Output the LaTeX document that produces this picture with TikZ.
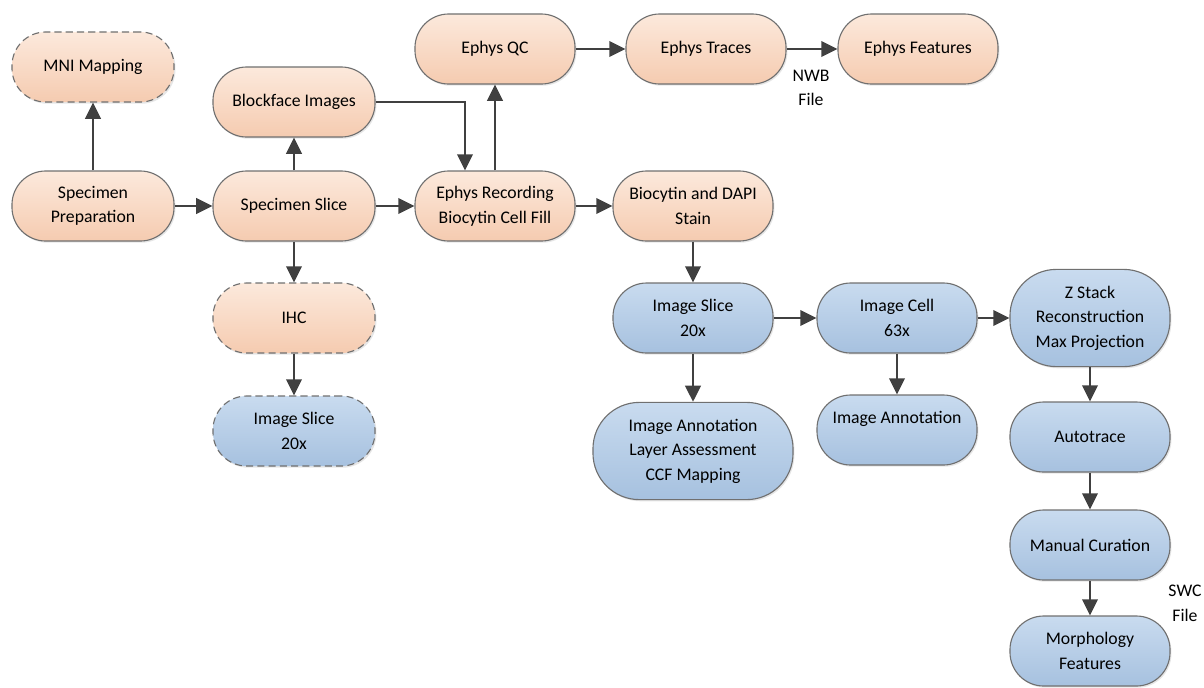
\documentclass[tikz,border=0pt]{standalone}
\usepackage{fontspec}
\setmainfont{Carlito}
\usetikzlibrary{arrows.meta,shadows}
\definecolor{peachtop}{HTML}{FCE9DC}
\definecolor{peachbot}{HTML}{F5CBB0}
\definecolor{bluetop}{HTML}{C9DBEF}
\definecolor{bluebot}{HTML}{A6C1DF}
\definecolor{edgegray}{HTML}{707070}
\definecolor{arrowgray}{HTML}{404040}
\tikzset{box/.style={draw=edgegray,line width=0.8pt,rounded corners=24pt,
    minimum width=4cm,minimum height=1.75cm,align=center,
    font=\fontsize{12.6}{17.5}\selectfont,
    drop shadow={opacity=0.2,shadow xshift=1pt,shadow yshift=-1.2pt}},
    peachbox/.style={box,top color=peachtop,bottom color=peachbot},
    bluebox/.style={box,top color=bluetop,bottom color=bluebot},
    optional/.style={dash pattern=on 5pt off 3pt},
    tallbox/.style={minimum height=2.43cm,rounded corners=33pt},
    flow/.style={draw=arrowgray,line width=1.8pt,-{Triangle[length=11.5pt,width=11pt]}},
    filenote/.style={font=\fontsize{12.6}{17.5}\selectfont,align=center}}

\begin{document}
\begin{tikzpicture}[x=0.025cm,y=-0.025cm]
\useasboundingbox (0,0) rectangle (1204,687);

\node[peachbox,optional,minimum width=4.05cm] (mni) at (93,67) {MNI Mapping};
\node[peachbox,minimum width=4.05cm] (prep) at (93,206) {Specimen\\Preparation};
\node[peachbox,minimum width=4.05cm] (blockface) at (294,102) {Blockface Images};
\node[peachbox,minimum width=4.05cm] (slice) at (294,206) {Specimen Slice};
\node[peachbox,optional,minimum width=4.05cm] (ihc) at (294,318) {IHC};
\node[bluebox,optional,minimum width=4.05cm] (ihcimg) at (294,431) {Image Slice\\20x};

\node[peachbox] (qc) at (495,49) {Ephys QC};
\node[peachbox] (traces) at (706,49) {Ephys Traces};
\node[peachbox] (features) at (918,49) {Ephys Features};
\node[peachbox] (rec) at (495,206) {Ephys Recording\\Biocytin Cell Fill};
\node[peachbox] (stain) at (693,206) {Biocytin and DAPI\\Stain};

\node[bluebox] (imgslice) at (693,318) {Image Slice\\20x};
\node[bluebox,tallbox,minimum width=5cm] (annot) at (693,451) {Image Annotation\\Layer Assessment\\CCF Mapping};
\node[bluebox] (imgcell) at (897,318) {Image Cell\\63x};
\node[bluebox] (cellannot) at (897,430) {Image Annotation\\~};
\node[bluebox,tallbox] (zstack) at (1090,318) {Z Stack\\Reconstruction\\Max Projection};
\node[bluebox] (autotrace) at (1090,437) {Autotrace};
\node[bluebox] (curation) at (1090,545) {Manual Curation};
\node[bluebox] (morph) at (1090,651) {Morphology\\Features};

\node[filenote] (nwb) at (811,88) {NWB\\File};
\node[filenote] (swc) at (1185,603) {SWC\\File};

\draw[flow] (prep) -- (mni);
\draw[flow] (prep) -- (slice);
\draw[flow] (slice) -- (blockface);
\draw[flow] (slice) -- (rec);
\draw[flow] (slice) -- (ihc);
\draw[flow] (ihc) -- (ihcimg);
\draw[flow] (blockface.east) -| ([xshift=-0.75cm]rec.north);
\draw[flow] (rec) -- (qc);
\draw[flow] (qc) -- (traces);
\draw[flow] (traces) -- (features);
\draw[flow] (rec) -- (stain);
\draw[flow] (stain) -- (imgslice);
\draw[flow] (imgslice) -- (annot);
\draw[flow] (imgslice) -- (imgcell);
\draw[flow] (imgcell) -- (cellannot);
\draw[flow] (imgcell) -- (zstack);
\draw[flow] (zstack) -- (autotrace);
\draw[flow] (autotrace) -- (curation);
\draw[flow] (curation) -- (morph);
\end{tikzpicture}
\end{document}
